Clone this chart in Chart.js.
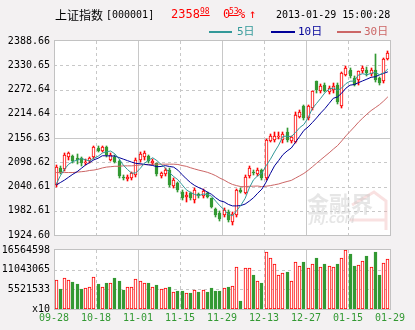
<!DOCTYPE html>
<html>
<head>
<meta charset="utf-8">
<title>上证指数</title>
<script src="https://cdn.jsdelivr.net/npm/chart.js@4.4.0/dist/chart.umd.min.js"></script>
<style>
  html, body { margin: 0; padding: 0; }
  body { position: relative; width: 415px; height: 330px; overflow: hidden; background: #f3f1f2; }
  canvas { position: absolute; left: 0; }
  #priceChart { top: 0; }
  #volChart { top: 240px; }
  .t { position: absolute; white-space: nowrap; z-index: 2; }
  .mono { font-family: 'DejaVu Sans Mono', monospace; }
  .cn { font-family: 'Noto Sans CJK SC', sans-serif; }
  .red { color: #ff0000; }
  .dec { text-decoration: underline; text-underline-offset: 1px; }
  .key { position: absolute; height: 2px; z-index: 2; }
  .lg { font: 11px/11px 'DejaVu Sans Mono', 'Noto Sans CJK SC', monospace; }
</style>
</head>
<body>
<canvas id="priceChart" width="415" height="255"></canvas>
<canvas id="volChart" width="415" height="90"></canvas>

<div class="t cn" style="left:55px;top:9px;font-size:12px;line-height:12px;">上证指数</div>
<div class="t mono" style="left:106px;top:10px;font-size:10px;line-height:10px;">[000001]</div>
<div class="t mono red" id="lastInt" style="left:171px;top:8px;font-size:12px;line-height:12px;"></div>
<div class="t mono red dec" id="lastDec" style="left:200px;top:8px;font-size:8px;line-height:8px;"></div>
<div class="t mono red" id="pctInt" style="left:223px;top:8px;font-size:12px;line-height:12px;"></div>
<div class="t mono red dec" id="pctDec" style="left:229px;top:8px;font-size:8px;line-height:8px;"></div>
<div class="t mono red" style="left:238px;top:8px;font-size:12px;line-height:12px;">%</div>
<div class="t mono red" style="left:249px;top:8px;font-size:12px;line-height:12px;">↑</div>
<div class="t mono" style="left:276px;top:10px;font-size:10px;line-height:10px;">2013-01-29 15:00:28</div>

<div class="key" style="left:209px;top:31px;width:23px;background:#339999"></div>
<div class="t lg" style="left:237px;top:26px;color:#339999">5日</div>
<div class="key" style="left:271px;top:31px;width:24px;background:#000099"></div>
<div class="t lg" style="left:298px;top:26px;color:#000099">10日</div>
<div class="key" style="left:337px;top:31px;width:24px;background:#cc6666"></div>
<div class="t lg" style="left:364px;top:26px;color:#cc6666">30日</div>

<script>
// 上证指数 daily bars, 2012-09-28 .. 2013-01-29 (80 sessions)
const opens = [2044,2086,2082,2110,2113,2108,2108,2096,2101,2110,
  2132,2126,2135,2105,2112,2101,2064,2058,2060,2068,
  2105,2110,2113,2097,2096,2066,2070,2080,2042,2048,
  2028,2016,2024,2008,2022,2019,2024,2012,1986,1978,
  1972,1980,1956,1972,2032,2026,2066,2076,2070,2080,
  2060,2150,2152,2159,2152,2170,2149,2148,2207,2232,
  2204,2228,2292,2268,2284,2266,2272,2284,2232,2307,
  2320,2301,2296,2316,2320,2309,2320,2300,2292,2346];
const highs = [2092,2090,2120,2124,2116,2118,2110,2106,2112,2137,
  2137,2138,2138,2120,2115,2104,2068,2068,2076,2108,
  2122,2126,2116,2106,2098,2076,2084,2084,2060,2052,
  2032,2028,2028,2036,2026,2034,2028,2014,1990,1982,
  1988,1984,1980,2034,2036,2068,2090,2080,2084,2082,
  2154,2166,2172,2170,2172,2180,2162,2220,2224,2236,
  2236,2270,2294,2286,2288,2282,2287,2288,2314,2330,
  2324,2304,2318,2330,2327,2323,2358,2303,2348,2364];
const lows = [2040,2070,2078,2103,2098,2094,2090,2092,2098,2106,
  2122,2122,2112,2102,2096,2062,2056,2054,2056,2064,
  2100,2104,2098,2092,2066,2060,2066,2040,2038,2028,
  2008,2004,2008,2002,2014,2014,2012,1990,1968,1958,
  1968,1956,1948,1968,2024,2022,2062,2068,2066,2056,
  2056,2146,2148,2154,2144,2148,2145,2144,2204,2200,
  2200,2224,2265,2264,2266,2262,2264,2238,2228,2304,
  2300,2280,2284,2313,2304,2305,2290,2284,2289,2343];
const closes = [2088,2076,2116,2121,2101,2104,2096,2100,2108,2134,
  2126,2135,2116,2116,2100,2066,2060,2064,2072,2104,
  2118,2121,2102,2102,2070,2072,2080,2044,2056,2032,
  2012,2020,2012,2032,2018,2030,2016,1992,1972,1962,
  1984,1960,1976,2032,2028,2064,2086,2073,2080,2060,
  2152,2162,2162,2162,2166,2152,2158,2211,2220,2204,
  2232,2268,2272,2282,2270,2276,2282,2242,2311,2323,
  2304,2284,2316,2325,2311,2320,2296,2288,2346.55,2358.98];
const volumes = [8190000,5730000,8650000,8100000,7650000,7100000,5730000,5920000,6190000,8920000,
  7100000,6190000,7370000,7280000,8740000,7920000,5460000,6190000,6190000,8370000,
  7830000,7280000,7370000,6190000,6830000,5640000,5920000,6280000,4820000,5190000,
  5190000,4550000,4370000,5370000,4910000,5370000,4640000,6010000,5190000,5190000,
  5920000,6280000,6460000,11920000,2180000,11650000,11650000,9560000,7830000,7370000,
  16020000,14380000,12740000,9470000,10010000,10380000,7920000,13290000,12200000,13110000,
  11650000,12740000,14200000,11920000,12560000,12200000,11920000,12560000,14380000,16564598,
  15560000,12010000,12470000,13560000,15020000,11920000,16110000,9560000,13020000,14110000];

// moving averages as plotted (5 / 10 / 30 sessions)
const ma5 = [2046,2066,2082,2094,2100.4,2103.6,2107.6,2104.4,2101.8,2108.4,
  2112.8,2120.6,2123.8,2125.4,2118.6,2106.6,2091.6,2081.2,2072.4,2073.2,
  2083.6,2095.8,2103.4,2109.4,2102.6,2093.4,2085.2,2073.6,2064.4,2056.8,
  2044.8,2032.8,2026.4,2021.6,2018.8,2022.4,2021.6,2017.6,2005.6,1994.4,
  1985.2,1974.0,1970.8,1982.8,1996.0,2012.0,2037.2,2056.6,2066.2,2072.6,
  2090.2,2105.4,2123.2,2139.6,2160.8,2160.8,2160.0,2169.8,2181.4,2189.0,
  2205.0,2227.0,2239.2,2251.6,2264.8,2273.6,2276.4,2270.4,2276.2,2286.8,
  2292.4,2292.8,2307.6,2310.4,2308.0,2311.2,2313.6,2308.0,2312.2,2321.8];
const ma10 = [2044,2050,2056,2063,2070,2076,2084,2092,2098,2104.4,
  2108.2,2114.1,2114.1,2113.6,2113.5,2109.7,2106.1,2102.5,2098.9,2095.9,
  2095.1,2093.7,2092.3,2090.9,2087.9,2088.5,2090.5,2088.5,2086.9,2079.7,
  2069.1,2059.0,2050.0,2043.0,2037.8,2033.6,2027.2,2022.0,2013.6,2006.6,
  2003.8,1997.8,1994.2,1994.2,1995.2,1998.6,2005.6,2013.7,2024.5,2034.3,
  2051.1,2071.3,2089.9,2102.9,2116.7,2125.5,2132.7,2146.5,2160.5,2174.9,
  2182.9,2193.5,2204.5,2216.5,2226.9,2239.3,2251.7,2254.8,2263.9,2275.8,
  2283.0,2284.6,2289.0,2293.3,2297.4,2301.8,2303.2,2307.8,2311.3,2314.9];
const ma30 = [2074,2074,2074,2074,2074,2075,2076,2077,2079,2080,
  2082,2085,2087,2088,2089,2089,2090,2090,2090,2091,
  2092,2093,2093,2094,2094,2094,2094,2094,2094,2093.3,
  2090.8,2088.9,2085.5,2082.5,2079.7,2077.3,2074.6,2071.0,2066.5,2060.7,
  2056.0,2050.2,2045.5,2042.7,2040.3,2040.2,2041.1,2041.4,2041.7,2040.2,
  2041.3,2042.7,2044.7,2046.7,2049.9,2052.6,2055.2,2060.7,2066.2,2071.9,
  2079.3,2087.5,2096.2,2104.5,2112.9,2121.1,2130.0,2138.3,2149.6,2161.7,
  2172.3,2183.1,2194.5,2204.2,2213.7,2222.2,2229.2,2236.4,2245.2,2255.2];

// axis ticks
const priceTicks = [1924.60, 1982.61, 2040.61, 2098.62, 2156.63, 2214.64, 2272.64, 2330.65, 2388.66];
const priceTickLabels = ['1924.60', '1982.61', '2040.61', '2098.62', '2156.63', '2214.64', '2272.64', '2330.65', '2388.66'];
const volTicks = [0, 5521533, 11043065, 16564598];
const volTickLabels = ['x10', '5521533', '11043065', '16564598'];
const dateTicks = [0, 10, 20, 30, 40, 50, 60, 70, 80];
const dateLabels = ['09-28', '10-18', '11-01', '11-15', '11-29', '12-13', '12-27', '01-15', '01-29'];

const RED = '#ff0000';
const GREEN = '#339933';
const GRID = '#c8c8c8';
const FRAME = '#c2c2c2';

// header quote from the last two closes
const last = closes[closes.length - 1];
const prev = closes[closes.length - 2];
const lastParts = last.toFixed(2).split('.');
const pctParts = ((last - prev) / prev * 100).toFixed(2).split('.');
document.getElementById('lastInt').textContent = lastParts[0];
document.getElementById('lastDec').textContent = lastParts[1];
document.getElementById('pctInt').textContent = pctParts[0];
document.getElementById('pctDec').textContent = pctParts[1];

const up = closes.map((c, i) => c >= opens[i]);
const n = closes.length;

Chart.defaults.font.family = "'DejaVu Sans Mono', monospace";
Chart.defaults.font.size = 10;
Chart.defaults.color = '#000';

// white plot area, dashed grid every 10 sessions, frame, optional logo
const panel = {
  id: 'panel',
  beforeDraw(chart) {
    const { ctx, chartArea: a } = chart;
    ctx.save();
    ctx.fillStyle = '#fff';
    ctx.fillRect(a.left, a.top, a.width, a.height);
    ctx.restore();
  },
  beforeDatasetsDraw(chart, args, opts) {
    const { ctx, chartArea: a, scales } = chart;
    ctx.save();
    ctx.lineWidth = 1;
    ctx.strokeStyle = GRID;
    const ticks = scales.y.ticks;
    ticks.forEach((t, k) => {
      if (k === 0 || k === ticks.length - 1) return;
      const y = Math.round(scales.y.getPixelForValue(t.value)) + 0.5;
      ctx.setLineDash(k === opts.solidRow ? [] : [3, 3]);
      ctx.beginPath();
      ctx.moveTo(a.left, y);
      ctx.lineTo(a.right, y);
      ctx.stroke();
    });
    for (let k = 10; k < n; k += 10) {
      const x = Math.round(scales.x.getPixelForValue(k)) + 0.5;
      ctx.setLineDash(k % 20 === 0 ? [] : [3, 3]);
      ctx.beginPath();
      ctx.moveTo(x, a.top);
      ctx.lineTo(x, a.bottom);
      ctx.stroke();
    }
    ctx.setLineDash([]);

    if (opts.logo) {
      // faint site logo in the lower right corner
      const lx = a.right - 83, ly = a.bottom - 23;
      ctx.strokeStyle = 'rgba(238,170,170,0.35)';
      ctx.lineWidth = 3;
      ctx.beginPath();
      ctx.moveTo(a.right - 38, a.bottom - 30);
      ctx.lineTo(a.right - 16, a.bottom - 43);
      ctx.lineTo(a.right - 4, a.bottom - 34);
      ctx.lineTo(a.right - 4, a.bottom - 5);
      ctx.moveTo(a.right - 40, a.bottom - 15);
      ctx.lineTo(a.right - 4, a.bottom - 15);
      ctx.stroke();
      ctx.fillStyle = 'rgba(200,200,200,0.45)';
      ctx.font = "bold 22px 'Noto Sans CJK SC'";
      ctx.fillText('金融界', lx, ly);
      ctx.font = "italic bold 10px 'DejaVu Sans'";
      ctx.fillText('JRJ.COM', lx + 3, ly + 11);
    }
    ctx.restore();
  },
  afterDatasetsDraw(chart) {
    const { ctx, chartArea: a } = chart;
    ctx.save();
    ctx.strokeStyle = FRAME;
    ctx.lineWidth = 1;
    const x0 = Math.round(a.left) + 0.5, x1 = Math.round(a.right) + 0.5;
    const y0 = Math.round(a.top) - 0.5, y1 = Math.round(a.bottom) + 0.5;
    ctx.strokeRect(x0, y0, x1 - x0, y1 - y0);
    ctx.restore();
  }
};

// snap bar centres/edges to the pixel grid so 1px wicks and hollow bodies stay sharp
const snapBars = {
  id: 'snapBars',
  afterDatasetsUpdate(chart) {
    chart.getSortedVisibleDatasetMetas().forEach(meta => {
      if (meta.type !== 'bar') return;
      meta.data.forEach(el => {
        el.x = Math.floor(el.x) + 0.5;
        el.y = Math.round(el.y);
        el.base = Math.round(el.base);
      });
    });
  }
};

const xAxis = { type: 'linear', min: 0, max: n, offset: false };

new Chart(document.getElementById('priceChart'), {
  type: 'bar',
  data: {
    datasets: [
      { type: 'line', label: 'MA5', data: ma5.map((v, i) => ({ x: i + 0.5, y: v })),
        borderColor: '#339999', borderWidth: 1, pointRadius: 0, order: 0 },
      { type: 'line', label: 'MA10', data: ma10.map((v, i) => ({ x: i + 0.5, y: v })),
        borderColor: '#000099', borderWidth: 1, pointRadius: 0, order: 0 },
      { type: 'line', label: 'MA30', data: ma30.map((v, i) => ({ x: i + 0.5, y: v })),
        borderColor: '#cc6666', borderWidth: 1, pointRadius: 0, order: 0 },
      { label: 'body', data: opens.map((o, i) => ({ x: i + 0.5, y: [o, closes[i]] })),
        backgroundColor: up.map(u => u ? '#fff' : GREEN),
        borderColor: up.map(u => u ? RED : GREEN),
        borderWidth: 1, borderSkipped: false, barThickness: 3, grouped: false, order: 1 },
      { label: 'wick', data: lows.map((l, i) => ({ x: i + 0.5, y: [l, highs[i]] })),
        backgroundColor: up.map(u => u ? RED : GREEN),
        borderWidth: 0, barThickness: 1, grouped: false, order: 2 }
    ]
  },
  options: {
    responsive: false,
    animation: false,
    events: [],
    layout: { padding: { top: 41, right: 25, bottom: 20, left: 0 } },
    plugins: { legend: { display: false }, tooltip: { enabled: false }, panel: { solidRow: 4, logo: true } },
    scales: {
      x: { ...xAxis, display: false },
      y: {
        min: priceTicks[0], max: priceTicks[priceTicks.length - 1],
        afterBuildTicks: s => { s.ticks = priceTicks.map(v => ({ value: v })); },
        afterFit: s => { s.width = 54; },
        grid: { display: false, drawTicks: false },
        border: { display: false },
        ticks: { padding: 4, autoSkip: false, callback: (v, i) => priceTickLabels[i] }
      }
    }
  },
  plugins: [panel, snapBars]
});

new Chart(document.getElementById('volChart'), {
  type: 'bar',
  data: {
    datasets: [
      { label: 'volume', data: volumes.map((v, i) => ({ x: i + 0.5, y: v })),
        backgroundColor: up.map(u => u ? '#fff' : GREEN),
        borderColor: up.map(u => u ? RED : GREEN),
        borderWidth: 1, borderSkipped: false, barThickness: 3, grouped: false }
    ]
  },
  options: {
    responsive: false,
    animation: false,
    events: [],
    layout: { padding: { top: 8.5, right: 25, bottom: 0, left: 0 } },
    plugins: { legend: { display: false }, tooltip: { enabled: false }, panel: { solidRow: -1, logo: false } },
    scales: {
      x: {
        ...xAxis,
        afterBuildTicks: s => { s.ticks = dateTicks.map(v => ({ value: v })); },
        afterFit: s => { s.height = 21; },
        grid: { display: false, drawTicks: false },
        border: { display: false },
        ticks: { color: GREEN, padding: 3, autoSkip: false, maxRotation: 0, minRotation: 0,
          callback: (v, i) => dateLabels[i] }
      },
      y: {
        min: volTicks[0], max: volTicks[volTicks.length - 1],
        afterBuildTicks: s => { s.ticks = volTicks.map(v => ({ value: v })); },
        afterFit: s => { s.width = 54; },
        grid: { display: false, drawTicks: false },
        border: { display: false },
        ticks: { padding: 4, autoSkip: false, callback: (v, i) => volTickLabels[i] }
      }
    }
  },
  plugins: [panel, snapBars]
});
</script>
</body>
</html>
